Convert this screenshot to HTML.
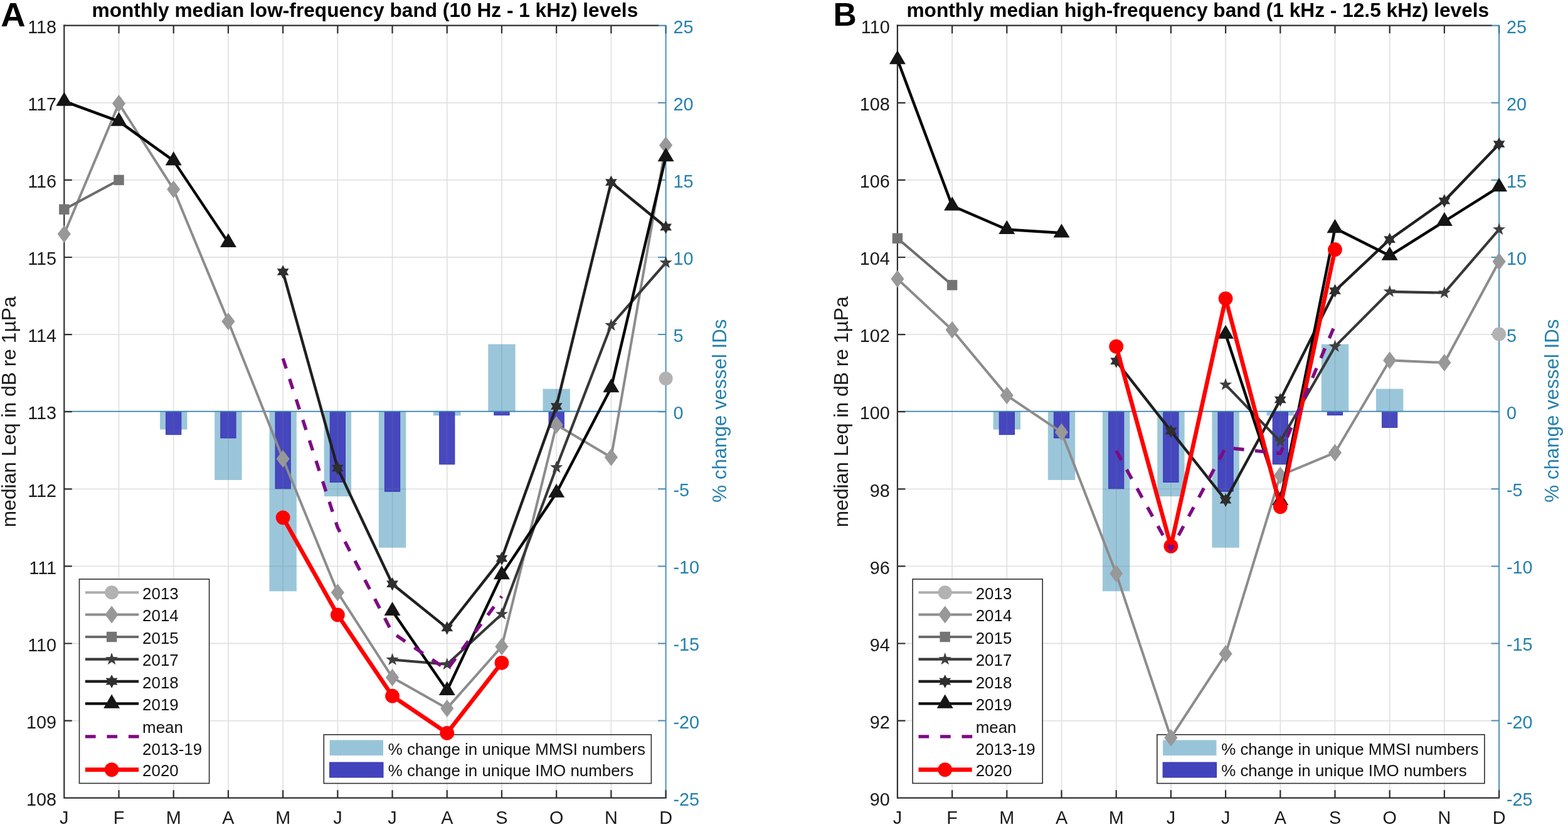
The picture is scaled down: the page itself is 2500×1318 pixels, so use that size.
<!DOCTYPE html>
<html lang="en">
<head>
<meta charset="utf-8">
<title>Monthly median noise levels</title>
<style>
html,body{margin:0;padding:0;background:#fff;}
body{width:2500px;height:1318px;overflow:hidden;}
svg{display:block;}
</style>
</head>
<body>
<svg width="2500" height="1318" viewBox="0 0 2500 1318" font-family='"Liberation Sans", Arial, Helvetica, sans-serif'>
<rect width="2500" height="1318" fill="#fff"/>
<path d="M189.51 40.7V1271.7M276.72 40.7V1271.7M363.93 40.7V1271.7M451.14 40.7V1271.7M538.35 40.7V1271.7M625.55 40.7V1271.7M712.76 40.7V1271.7M799.97 40.7V1271.7M887.18 40.7V1271.7M974.39 40.7V1271.7M102.3 1148.6H1061.6M102.3 1025.5H1061.6M102.3 902.4H1061.6M102.3 779.3H1061.6M102.3 656.2H1061.6M102.3 533.1H1061.6M102.3 410H1061.6M102.3 286.9H1061.6M102.3 163.8H1061.6" stroke="#e2e2e2" stroke-width="1.8" fill="none"/>
<rect x="255.02" y="656.2" width="43.4" height="28.31" fill="#98c4d9" fill-opacity="0.97"/>
<rect x="342.23" y="656.2" width="43.4" height="108.82" fill="#98c4d9" fill-opacity="0.97"/>
<rect x="429.44" y="656.2" width="43.4" height="286.08" fill="#98c4d9" fill-opacity="0.97"/>
<rect x="516.65" y="656.2" width="43.4" height="134.92" fill="#98c4d9" fill-opacity="0.97"/>
<rect x="603.85" y="656.2" width="43.4" height="216.66" fill="#98c4d9" fill-opacity="0.97"/>
<rect x="691.06" y="656.2" width="43.4" height="6.15" fill="#98c4d9" fill-opacity="0.97"/>
<rect x="778.27" y="548.61" width="43.4" height="107.59" fill="#98c4d9" fill-opacity="0.97"/>
<rect x="865.48" y="619.76" width="43.4" height="36.44" fill="#98c4d9" fill-opacity="0.97"/>
<rect x="264.62" y="656.2" width="24.2" height="36.44" fill="#4343bd" fill-opacity="0.97" stroke="#3434b4" stroke-width="1"/>
<rect x="351.83" y="656.2" width="24.2" height="41.85" fill="#4343bd" fill-opacity="0.97" stroke="#3434b4" stroke-width="1"/>
<rect x="439.04" y="656.2" width="24.2" height="122.61" fill="#4343bd" fill-opacity="0.97" stroke="#3434b4" stroke-width="1"/>
<rect x="526.25" y="656.2" width="24.2" height="112.27" fill="#4343bd" fill-opacity="0.97" stroke="#3434b4" stroke-width="1"/>
<rect x="613.45" y="656.2" width="24.2" height="127.04" fill="#4343bd" fill-opacity="0.97" stroke="#3434b4" stroke-width="1"/>
<rect x="700.66" y="656.2" width="24.2" height="83.71" fill="#4343bd" fill-opacity="0.97" stroke="#3434b4" stroke-width="1"/>
<rect x="787.87" y="656.2" width="24.2" height="5.42" fill="#4343bd" fill-opacity="0.97" stroke="#3434b4" stroke-width="1"/>
<rect x="875.08" y="656.2" width="24.2" height="25.11" fill="#4343bd" fill-opacity="0.97" stroke="#3434b4" stroke-width="1"/>
<clipPath id="bcA"><rect x="255.02" y="656.2" width="43.4" height="28.31"/><rect x="342.23" y="656.2" width="43.4" height="108.82"/><rect x="429.44" y="656.2" width="43.4" height="286.08"/><rect x="516.65" y="656.2" width="43.4" height="134.92"/><rect x="603.85" y="656.2" width="43.4" height="216.66"/><rect x="691.06" y="656.2" width="43.4" height="6.15"/><rect x="778.27" y="548.61" width="43.4" height="107.59"/><rect x="865.48" y="619.76" width="43.4" height="36.44"/><rect x="264.62" y="656.2" width="24.2" height="36.44"/><rect x="351.83" y="656.2" width="24.2" height="41.85"/><rect x="439.04" y="656.2" width="24.2" height="122.61"/><rect x="526.25" y="656.2" width="24.2" height="112.27"/><rect x="613.45" y="656.2" width="24.2" height="127.04"/><rect x="700.66" y="656.2" width="24.2" height="83.71"/><rect x="787.87" y="656.2" width="24.2" height="5.42"/><rect x="875.08" y="656.2" width="24.2" height="25.11"/></clipPath>
<path d="M189.51 40.7V1271.7M276.72 40.7V1271.7M363.93 40.7V1271.7M451.14 40.7V1271.7M538.35 40.7V1271.7M625.55 40.7V1271.7M712.76 40.7V1271.7M799.97 40.7V1271.7M887.18 40.7V1271.7M974.39 40.7V1271.7M102.3 1148.6H1061.6M102.3 1025.5H1061.6M102.3 902.4H1061.6M102.3 779.3H1061.6M102.3 656.2H1061.6M102.3 533.1H1061.6M102.3 410H1061.6M102.3 286.9H1061.6M102.3 163.8H1061.6" stroke="#5f7f90" stroke-opacity="0.22" stroke-width="1.8" fill="none" clip-path="url(#bcA)"/>
<path d="M102.3 655.6H1061.6" stroke="#3b86b0" stroke-width="1.6"/>
<path d="M102.3 40.7V1271.7H1061.6" stroke="#2e2e2e" stroke-width="2.2" fill="none" stroke-linecap="square"/>
<path d="M102.3 40.7H1049.6" stroke="#2e2e2e" stroke-width="2.2" fill="none" stroke-linecap="square"/>
<path d="M1049.6 40.7H1061.6" stroke="#4a8fb9" stroke-width="2.2" fill="none"/>
<path d="M1061.6 39.7V1272.7" stroke="#4a8fb9" stroke-width="2.0" fill="none"/>
<path d="M189.51 1271.7v-12.5M189.51 40.7v12.5M276.72 1271.7v-12.5M276.72 40.7v12.5M363.93 1271.7v-12.5M363.93 40.7v12.5M451.14 1271.7v-12.5M451.14 40.7v12.5M538.35 1271.7v-12.5M538.35 40.7v12.5M625.55 1271.7v-12.5M625.55 40.7v12.5M712.76 1271.7v-12.5M712.76 40.7v12.5M799.97 1271.7v-12.5M799.97 40.7v12.5M887.18 1271.7v-12.5M887.18 40.7v12.5M974.39 1271.7v-12.5M974.39 40.7v12.5M102.3 1148.6h12.5M102.3 1025.5h12.5M102.3 902.4h12.5M102.3 779.3h12.5M102.3 656.2h12.5M102.3 533.1h12.5M102.3 410h12.5M102.3 286.9h12.5M102.3 163.8h12.5" stroke="#2e2e2e" stroke-width="2.2" fill="none"/>
<path d="M1061.6 1148.6h-12.5M1061.6 1025.5h-12.5M1061.6 902.4h-12.5M1061.6 779.3h-12.5M1061.6 656.2h-12.5M1061.6 533.1h-12.5M1061.6 410h-12.5M1061.6 286.9h-12.5M1061.6 163.8h-12.5" stroke="#4a8fb9" stroke-width="2" fill="none"/>
<path d="M1061.6 1271.7v-12.5" stroke="#2e2e2e" stroke-width="2.2" fill="none"/>
<path d="M1061.6 40.7v12.5" stroke="#2f6f8c" stroke-width="2.2" fill="none"/>
<g fill="#111"><rect x="516.3" y="1170.8" width="522.1" height="77.7" fill="#fff" fill-opacity="0.55" stroke="#2e2e2e" stroke-width="1.6"/><rect x="525.6" y="1179.5" width="85.4" height="24.5" fill="#98c4d9"/><rect x="525.6" y="1215" width="85.4" height="24" fill="#4343bd" stroke="#3434b4" stroke-width="1"/><text x="618.7" y="1202.6" font-size="25.9">% change in unique MMSI numbers</text><text x="618.7" y="1237.4" font-size="25.9">% change in unique IMO numbers</text></g>
<circle cx="1061.6" cy="603.27" r="11" fill="#b2b2b2"/>
<path d="M102.3 373.07L189.51 165.03L276.72 301.67L363.93 512.17L451.14 731.29L538.35 944.25L625.55 1079.66L712.76 1128.9L799.97 1030.42L887.18 677.13L974.39 728.83L1061.6 231.5" stroke="#8c8c8c" stroke-width="4.0" fill="none" stroke-linejoin="round"/>
<polygon points="102.3,359.07 112.9,373.07 102.3,387.07 91.7,373.07" fill="#989898"/>
<polygon points="189.51,151.03 200.11,165.03 189.51,179.03 178.91,165.03" fill="#989898"/>
<polygon points="276.72,287.67 287.32,301.67 276.72,315.67 266.12,301.67" fill="#989898"/>
<polygon points="363.93,498.17 374.53,512.17 363.93,526.17 353.33,512.17" fill="#989898"/>
<polygon points="451.14,717.29 461.74,731.29 451.14,745.29 440.54,731.29" fill="#989898"/>
<polygon points="538.35,930.25 548.95,944.25 538.35,958.25 527.75,944.25" fill="#989898"/>
<polygon points="625.55,1065.66 636.15,1079.66 625.55,1093.66 614.95,1079.66" fill="#989898"/>
<polygon points="712.76,1114.9 723.36,1128.9 712.76,1142.9 702.16,1128.9" fill="#989898"/>
<polygon points="799.97,1016.42 810.57,1030.42 799.97,1044.42 789.37,1030.42" fill="#989898"/>
<polygon points="887.18,663.13 897.78,677.13 887.18,691.13 876.58,677.13" fill="#989898"/>
<polygon points="974.39,714.83 984.99,728.83 974.39,742.83 963.79,728.83" fill="#989898"/>
<polygon points="1061.6,217.5 1072.2,231.5 1061.6,245.5 1051,231.5" fill="#989898"/>
<path d="M102.3 333.68L189.51 286.9" stroke="#6c6c6c" stroke-width="4.0" fill="none" stroke-linejoin="round"/>
<rect x="94.1" y="325.48" width="16.4" height="16.4" fill="#747474"/>
<rect x="181.31" y="278.7" width="16.4" height="16.4" fill="#747474"/>
<path d="M625.55 1051.35L712.76 1058.74L799.97 978.72L887.18 744.83L974.39 518.33L1061.6 418.62" stroke="#383838" stroke-width="4.2" fill="none" stroke-linejoin="round"/>
<polygon points="625.55,1040.75 628.08,1047.87 635.64,1048.08 629.64,1052.68 631.79,1059.93 625.55,1055.65 619.32,1059.93 621.47,1052.68 615.47,1048.08 623.03,1047.87" fill="#3e3e3e"/>
<polygon points="712.76,1048.14 715.29,1055.26 722.84,1055.46 716.85,1060.07 718.99,1067.31 712.76,1063.04 706.53,1067.31 708.67,1060.07 702.68,1055.46 710.24,1055.26" fill="#3e3e3e"/>
<polygon points="799.97,968.12 802.5,975.24 810.05,975.45 804.06,980.05 806.2,987.3 799.97,983.02 793.74,987.3 795.88,980.05 789.89,975.45 797.45,975.24" fill="#3e3e3e"/>
<polygon points="887.18,734.23 889.71,741.35 897.26,741.56 891.27,746.16 893.41,753.41 887.18,749.13 880.95,753.41 883.09,746.16 877.1,741.56 884.65,741.35" fill="#3e3e3e"/>
<polygon points="974.39,507.73 976.92,514.85 984.47,515.05 978.48,519.66 980.62,526.9 974.39,522.63 968.16,526.9 970.3,519.66 964.31,515.05 971.86,514.85" fill="#3e3e3e"/>
<polygon points="1061.6,408.02 1064.13,415.14 1071.68,415.34 1065.69,419.95 1067.83,427.19 1061.6,422.92 1055.37,427.19 1057.51,419.95 1051.52,415.34 1059.07,415.14" fill="#3e3e3e"/>
<path d="M451.14 433.39L538.35 746.06L625.55 930.71L712.76 1000.88L799.97 890.09L887.18 647.58L974.39 290.59L1061.6 361.99" stroke="#202020" stroke-width="4.4" fill="none" stroke-linejoin="round"/>
<polygon points="451.14,422.59 454.14,428.19 460.49,427.99 457.14,433.39 460.49,438.79 454.14,438.59 451.14,444.19 448.14,438.59 441.78,438.79 445.14,433.39 441.78,427.99 448.14,428.19" fill="#2e2e2e"/>
<polygon points="538.35,735.26 541.35,740.87 547.7,740.66 544.35,746.06 547.7,751.46 541.35,751.26 538.35,756.86 535.35,751.26 528.99,751.46 532.35,746.06 528.99,740.66 535.35,740.87" fill="#2e2e2e"/>
<polygon points="625.55,919.91 628.55,925.52 634.91,925.31 631.55,930.71 634.91,936.11 628.55,935.91 625.55,941.51 622.55,935.91 616.2,936.11 619.55,930.71 616.2,925.31 622.55,925.52" fill="#2e2e2e"/>
<polygon points="712.76,990.08 715.76,995.68 722.12,995.48 718.76,1000.88 722.12,1006.28 715.76,1006.08 712.76,1011.68 709.76,1006.08 703.41,1006.28 706.76,1000.88 703.41,995.48 709.76,995.68" fill="#2e2e2e"/>
<polygon points="799.97,879.29 802.97,884.89 809.33,884.69 805.97,890.09 809.33,895.49 802.97,895.29 799.97,900.89 796.97,895.29 790.62,895.49 793.97,890.09 790.62,884.69 796.97,884.89" fill="#2e2e2e"/>
<polygon points="887.18,636.78 890.18,642.39 896.53,642.18 893.18,647.58 896.53,652.98 890.18,652.78 887.18,658.38 884.18,652.78 877.83,652.98 881.18,647.58 877.83,642.18 884.18,642.39" fill="#2e2e2e"/>
<polygon points="974.39,279.79 977.39,285.4 983.74,285.19 980.39,290.59 983.74,295.99 977.39,295.79 974.39,301.39 971.39,295.79 965.04,295.99 968.39,290.59 965.04,285.19 971.39,285.4" fill="#2e2e2e"/>
<polygon points="1061.6,351.19 1064.6,356.79 1070.95,356.59 1067.6,361.99 1070.95,367.39 1064.6,367.19 1061.6,372.79 1058.6,367.19 1052.25,367.39 1055.6,361.99 1052.25,356.59 1058.6,356.79" fill="#2e2e2e"/>
<path d="M102.3 161.34L189.51 193.34L276.72 256.12L363.93 386.61" stroke="#050505" stroke-width="4.4" fill="none" stroke-linejoin="round"/>
<path d="M625.55 973.8L712.76 1100.59L799.97 915.94L887.18 785.45L974.39 618.04L1061.6 249.97" stroke="#050505" stroke-width="4.4" fill="none" stroke-linejoin="round"/>
<polygon points="102.3,146.54 115.3,168.64 89.3,168.64" fill="#151515"/>
<polygon points="189.51,178.54 202.51,200.64 176.51,200.64" fill="#151515"/>
<polygon points="276.72,241.32 289.72,263.43 263.72,263.43" fill="#151515"/>
<polygon points="363.93,371.81 376.93,393.91 350.93,393.91" fill="#151515"/>
<polygon points="625.55,959 638.55,981.1 612.55,981.1" fill="#151515"/>
<polygon points="712.76,1085.79 725.76,1107.89 699.76,1107.89" fill="#151515"/>
<polygon points="799.97,901.14 812.97,923.24 786.97,923.24" fill="#151515"/>
<polygon points="887.18,770.65 900.18,792.75 874.18,792.75" fill="#151515"/>
<polygon points="974.39,603.24 987.39,625.34 961.39,625.34" fill="#151515"/>
<polygon points="1061.6,235.17 1074.6,257.27 1048.6,257.27" fill="#151515"/>
<path d="M451.14 824.85L538.35 979.95L625.55 1109.21L712.76 1168.3L799.97 1056.28" stroke="#ff0000" stroke-width="6.6" fill="none" stroke-linejoin="round"/>
<circle cx="451.14" cy="824.85" r="11.4" fill="#ff0000"/>
<circle cx="538.35" cy="979.95" r="11.4" fill="#ff0000"/>
<circle cx="625.55" cy="1109.21" r="11.4" fill="#ff0000"/>
<circle cx="712.76" cy="1168.3" r="11.4" fill="#ff0000"/>
<circle cx="799.97" cy="1056.28" r="11.4" fill="#ff0000"/>
<path d="M451.14 571.26L538.35 840.85L625.55 1008.27L712.76 1067.35L799.97 950.41" stroke="#7e0a84" stroke-width="5.4" fill="none" stroke-linejoin="round" stroke-dasharray="16.8 17.5"/>
<g font-size="28.8" fill="#1a1a1a"><text x="90.1" y="1283.9" text-anchor="end">108</text><text x="90.1" y="1160.8" text-anchor="end">109</text><text x="90.1" y="1037.7" text-anchor="end">110</text><text x="90.1" y="914.6" text-anchor="end">111</text><text x="90.1" y="791.5" text-anchor="end">112</text><text x="90.1" y="668.4" text-anchor="end">113</text><text x="90.1" y="545.3" text-anchor="end">114</text><text x="90.1" y="422.2" text-anchor="end">115</text><text x="90.1" y="299.1" text-anchor="end">116</text><text x="90.1" y="176" text-anchor="end">117</text><text x="90.1" y="52.9" text-anchor="end">118</text><text x="102.3" y="1312.6" text-anchor="middle">J</text><text x="189.51" y="1312.6" text-anchor="middle">F</text><text x="276.72" y="1312.6" text-anchor="middle">M</text><text x="363.93" y="1312.6" text-anchor="middle">A</text><text x="451.14" y="1312.6" text-anchor="middle">M</text><text x="538.35" y="1312.6" text-anchor="middle">J</text><text x="625.55" y="1312.6" text-anchor="middle">J</text><text x="712.76" y="1312.6" text-anchor="middle">A</text><text x="799.97" y="1312.6" text-anchor="middle">S</text><text x="887.18" y="1312.6" text-anchor="middle">O</text><text x="974.39" y="1312.6" text-anchor="middle">N</text><text x="1061.6" y="1312.6" text-anchor="middle">D</text></g>
<g font-size="28.8" fill="#2580ad"><text x="1073.5" y="1283.6">-25</text><text x="1073.5" y="1160.5">-20</text><text x="1073.5" y="1037.4">-15</text><text x="1073.5" y="914.3">-10</text><text x="1073.5" y="791.2">-5</text><text x="1073.5" y="668.1">0</text><text x="1073.5" y="545">5</text><text x="1073.5" y="421.9">10</text><text x="1073.5" y="298.8">15</text><text x="1073.5" y="175.7">20</text><text x="1073.5" y="52.6">25</text></g>
<text transform="translate(24.9 656.3) rotate(-90)" text-anchor="middle" font-size="31.75" fill="#1a1a1a">median Leq in dB re 1µPa</text>
<text transform="translate(1158 654.6) rotate(-90)" text-anchor="middle" font-size="31.3" fill="#2580ad">% change vessel IDs</text>
<g fill="#111"><rect x="126.5" y="923" width="207.1" height="325.4" fill="#fff" stroke="#2e2e2e" stroke-width="1.6"/><path d="M135.9 944.3H221.1" stroke="#adadad" stroke-width="4.0"/><circle cx="178.1" cy="944.3" r="11" fill="#b2b2b2"/><text x="227.1" y="954.8" font-size="25.9">2013</text><path d="M135.9 979.6H221.1" stroke="#8c8c8c" stroke-width="4.0"/><polygon points="178.1,965.6 188.7,979.6 178.1,993.6 167.5,979.6" fill="#989898"/><text x="227.1" y="990.1" font-size="25.9">2014</text><path d="M135.9 1015H221.1" stroke="#6c6c6c" stroke-width="4.0"/><rect x="169.9" y="1006.8" width="16.4" height="16.4" fill="#747474"/><text x="227.1" y="1025.5" font-size="25.9">2015</text><path d="M135.9 1050.6H221.1" stroke="#383838" stroke-width="4.2"/><polygon points="178.1,1040 180.63,1047.12 188.18,1047.32 182.19,1051.93 184.33,1059.18 178.1,1054.9 171.87,1059.18 174.01,1051.93 168.02,1047.32 175.57,1047.12" fill="#3e3e3e"/><text x="227.1" y="1061.1" font-size="25.9">2017</text><path d="M135.9 1086H221.1" stroke="#202020" stroke-width="4.4"/><polygon points="178.1,1075.2 181.1,1080.8 187.45,1080.6 184.1,1086 187.45,1091.4 181.1,1091.2 178.1,1096.8 175.1,1091.2 168.75,1091.4 172.1,1086 168.75,1080.6 175.1,1080.8" fill="#2e2e2e"/><text x="227.1" y="1096.5" font-size="25.9">2018</text><path d="M135.9 1121.4H221.1" stroke="#050505" stroke-width="4.4"/><polygon points="178.1,1106.6 191.1,1128.7 165.1,1128.7" fill="#151515"/><text x="227.1" y="1131.9" font-size="25.9">2019</text><path d="M135.9 1173.9H221.6" stroke="#7e0a84" stroke-width="5.4" stroke-dasharray="16.7 17.8"/><text x="227.1" y="1168.1" font-size="25.9">mean</text><text x="227.1" y="1202.8" font-size="25.9">2013-19</text><path d="M135.9 1226.6H221.1" stroke="#ff0000" stroke-width="6.6"/><circle cx="178.1" cy="1226.6" r="11.4" fill="#ff0000"/><text x="227.1" y="1237.1" font-size="25.9">2020</text></g>
<path d="M1518.1 40.7V1271.7M1605.3 40.7V1271.7M1692.5 40.7V1271.7M1779.7 40.7V1271.7M1866.9 40.7V1271.7M1954.1 40.7V1271.7M2041.3 40.7V1271.7M2128.5 40.7V1271.7M2215.7 40.7V1271.7M2302.9 40.7V1271.7M1430.9 1148.6H2390.1M1430.9 1025.5H2390.1M1430.9 902.4H2390.1M1430.9 779.3H2390.1M1430.9 656.2H2390.1M1430.9 533.1H2390.1M1430.9 410H2390.1M1430.9 286.9H2390.1M1430.9 163.8H2390.1" stroke="#e2e2e2" stroke-width="1.8" fill="none"/>
<rect x="1583.6" y="656.2" width="43.4" height="28.31" fill="#98c4d9" fill-opacity="0.97"/>
<rect x="1670.8" y="656.2" width="43.4" height="108.82" fill="#98c4d9" fill-opacity="0.97"/>
<rect x="1758" y="656.2" width="43.4" height="286.08" fill="#98c4d9" fill-opacity="0.97"/>
<rect x="1845.2" y="656.2" width="43.4" height="134.92" fill="#98c4d9" fill-opacity="0.97"/>
<rect x="1932.4" y="656.2" width="43.4" height="216.66" fill="#98c4d9" fill-opacity="0.97"/>
<rect x="2019.6" y="656.2" width="43.4" height="6.15" fill="#98c4d9" fill-opacity="0.97"/>
<rect x="2106.8" y="548.61" width="43.4" height="107.59" fill="#98c4d9" fill-opacity="0.97"/>
<rect x="2194" y="619.76" width="43.4" height="36.44" fill="#98c4d9" fill-opacity="0.97"/>
<rect x="1593.2" y="656.2" width="24.2" height="36.44" fill="#4343bd" fill-opacity="0.97" stroke="#3434b4" stroke-width="1"/>
<rect x="1680.4" y="656.2" width="24.2" height="41.85" fill="#4343bd" fill-opacity="0.97" stroke="#3434b4" stroke-width="1"/>
<rect x="1767.6" y="656.2" width="24.2" height="122.61" fill="#4343bd" fill-opacity="0.97" stroke="#3434b4" stroke-width="1"/>
<rect x="1854.8" y="656.2" width="24.2" height="112.27" fill="#4343bd" fill-opacity="0.97" stroke="#3434b4" stroke-width="1"/>
<rect x="1942" y="656.2" width="24.2" height="127.04" fill="#4343bd" fill-opacity="0.97" stroke="#3434b4" stroke-width="1"/>
<rect x="2029.2" y="656.2" width="24.2" height="83.71" fill="#4343bd" fill-opacity="0.97" stroke="#3434b4" stroke-width="1"/>
<rect x="2116.4" y="656.2" width="24.2" height="5.42" fill="#4343bd" fill-opacity="0.97" stroke="#3434b4" stroke-width="1"/>
<rect x="2203.6" y="656.2" width="24.2" height="25.11" fill="#4343bd" fill-opacity="0.97" stroke="#3434b4" stroke-width="1"/>
<clipPath id="bcB"><rect x="1583.6" y="656.2" width="43.4" height="28.31"/><rect x="1670.8" y="656.2" width="43.4" height="108.82"/><rect x="1758" y="656.2" width="43.4" height="286.08"/><rect x="1845.2" y="656.2" width="43.4" height="134.92"/><rect x="1932.4" y="656.2" width="43.4" height="216.66"/><rect x="2019.6" y="656.2" width="43.4" height="6.15"/><rect x="2106.8" y="548.61" width="43.4" height="107.59"/><rect x="2194" y="619.76" width="43.4" height="36.44"/><rect x="1593.2" y="656.2" width="24.2" height="36.44"/><rect x="1680.4" y="656.2" width="24.2" height="41.85"/><rect x="1767.6" y="656.2" width="24.2" height="122.61"/><rect x="1854.8" y="656.2" width="24.2" height="112.27"/><rect x="1942" y="656.2" width="24.2" height="127.04"/><rect x="2029.2" y="656.2" width="24.2" height="83.71"/><rect x="2116.4" y="656.2" width="24.2" height="5.42"/><rect x="2203.6" y="656.2" width="24.2" height="25.11"/></clipPath>
<path d="M1518.1 40.7V1271.7M1605.3 40.7V1271.7M1692.5 40.7V1271.7M1779.7 40.7V1271.7M1866.9 40.7V1271.7M1954.1 40.7V1271.7M2041.3 40.7V1271.7M2128.5 40.7V1271.7M2215.7 40.7V1271.7M2302.9 40.7V1271.7M1430.9 1148.6H2390.1M1430.9 1025.5H2390.1M1430.9 902.4H2390.1M1430.9 779.3H2390.1M1430.9 656.2H2390.1M1430.9 533.1H2390.1M1430.9 410H2390.1M1430.9 286.9H2390.1M1430.9 163.8H2390.1" stroke="#5f7f90" stroke-opacity="0.22" stroke-width="1.8" fill="none" clip-path="url(#bcB)"/>
<path d="M1430.9 655.6H2390.1" stroke="#3b86b0" stroke-width="1.6"/>
<path d="M1430.9 40.7V1271.7H2390.1" stroke="#2e2e2e" stroke-width="2.2" fill="none" stroke-linecap="square"/>
<path d="M1430.9 40.7H2378.1" stroke="#2e2e2e" stroke-width="2.2" fill="none" stroke-linecap="square"/>
<path d="M2378.1 40.7H2390.1" stroke="#4a8fb9" stroke-width="2.2" fill="none"/>
<path d="M2390.1 39.7V1272.7" stroke="#4a8fb9" stroke-width="2.0" fill="none"/>
<path d="M1518.1 1271.7v-12.5M1518.1 40.7v12.5M1605.3 1271.7v-12.5M1605.3 40.7v12.5M1692.5 1271.7v-12.5M1692.5 40.7v12.5M1779.7 1271.7v-12.5M1779.7 40.7v12.5M1866.9 1271.7v-12.5M1866.9 40.7v12.5M1954.1 1271.7v-12.5M1954.1 40.7v12.5M2041.3 1271.7v-12.5M2041.3 40.7v12.5M2128.5 1271.7v-12.5M2128.5 40.7v12.5M2215.7 1271.7v-12.5M2215.7 40.7v12.5M2302.9 1271.7v-12.5M2302.9 40.7v12.5M1430.9 1148.6h12.5M1430.9 1025.5h12.5M1430.9 902.4h12.5M1430.9 779.3h12.5M1430.9 656.2h12.5M1430.9 533.1h12.5M1430.9 410h12.5M1430.9 286.9h12.5M1430.9 163.8h12.5" stroke="#2e2e2e" stroke-width="2.2" fill="none"/>
<path d="M2390.1 1148.6h-12.5M2390.1 1025.5h-12.5M2390.1 902.4h-12.5M2390.1 779.3h-12.5M2390.1 656.2h-12.5M2390.1 533.1h-12.5M2390.1 410h-12.5M2390.1 286.9h-12.5M2390.1 163.8h-12.5" stroke="#4a8fb9" stroke-width="2" fill="none"/>
<path d="M2390.1 1271.7v-12.5" stroke="#2e2e2e" stroke-width="2.2" fill="none"/>
<path d="M2390.1 40.7v12.5" stroke="#2f6f8c" stroke-width="2.2" fill="none"/>
<g fill="#111"><rect x="1844.8" y="1170.8" width="522.1" height="77.7" fill="#fff" fill-opacity="0.55" stroke="#2e2e2e" stroke-width="1.6"/><rect x="1854.1" y="1179.5" width="85.4" height="24.5" fill="#98c4d9"/><rect x="1854.1" y="1215" width="85.4" height="24" fill="#4343bd" stroke="#3434b4" stroke-width="1"/><text x="1947.2" y="1202.6" font-size="25.9">% change in unique MMSI numbers</text><text x="1947.2" y="1237.4" font-size="25.9">% change in unique IMO numbers</text></g>
<circle cx="2390.1" cy="532.48" r="11" fill="#b2b2b2"/>
<path d="M1430.9 444.47L1518.1 525.71L1605.3 630.35L1692.5 688.82L1779.7 914.09L1866.9 1175.68L1954.1 1042.12L2041.3 757.76L2128.5 721.44L2215.7 574.34L2302.9 578.03L2390.1 416.77" stroke="#8c8c8c" stroke-width="4.0" fill="none" stroke-linejoin="round"/>
<polygon points="1430.9,430.47 1441.5,444.47 1430.9,458.47 1420.3,444.47" fill="#989898"/>
<polygon points="1518.1,511.71 1528.7,525.71 1518.1,539.71 1507.5,525.71" fill="#989898"/>
<polygon points="1605.3,616.35 1615.9,630.35 1605.3,644.35 1594.7,630.35" fill="#989898"/>
<polygon points="1692.5,674.82 1703.1,688.82 1692.5,702.82 1681.9,688.82" fill="#989898"/>
<polygon points="1779.7,900.09 1790.3,914.09 1779.7,928.09 1769.1,914.09" fill="#989898"/>
<polygon points="1866.9,1161.68 1877.5,1175.68 1866.9,1189.68 1856.3,1175.68" fill="#989898"/>
<polygon points="1954.1,1028.12 1964.7,1042.12 1954.1,1056.12 1943.5,1042.12" fill="#989898"/>
<polygon points="2041.3,743.76 2051.9,757.76 2041.3,771.76 2030.7,757.76" fill="#989898"/>
<polygon points="2128.5,707.44 2139.1,721.44 2128.5,735.44 2117.9,721.44" fill="#989898"/>
<polygon points="2215.7,560.34 2226.3,574.34 2215.7,588.34 2205.1,574.34" fill="#989898"/>
<polygon points="2302.9,564.03 2313.5,578.03 2302.9,592.03 2292.3,578.03" fill="#989898"/>
<polygon points="2390.1,402.77 2400.7,416.77 2390.1,430.77 2379.5,416.77" fill="#989898"/>
<path d="M1430.9 379.84L1518.1 454.32" stroke="#6c6c6c" stroke-width="4.0" fill="none" stroke-linejoin="round"/>
<rect x="1422.7" y="371.64" width="16.4" height="16.4" fill="#747474"/>
<rect x="1509.9" y="446.12" width="16.4" height="16.4" fill="#747474"/>
<path d="M1954.1 613.11L2041.3 703.59L2128.5 552.18L2215.7 464.78L2302.9 466.63L2390.1 365.68" stroke="#383838" stroke-width="4.2" fill="none" stroke-linejoin="round"/>
<polygon points="1954.1,602.51 1956.63,609.64 1964.18,609.84 1958.19,614.44 1960.33,621.69 1954.1,617.41 1947.87,621.69 1950.01,614.44 1944.02,609.84 1951.57,609.64" fill="#3e3e3e"/>
<polygon points="2041.3,692.99 2043.83,700.11 2051.38,700.32 2045.39,704.92 2047.53,712.17 2041.3,707.89 2035.07,712.17 2037.21,704.92 2031.22,700.32 2038.77,700.11" fill="#3e3e3e"/>
<polygon points="2128.5,541.58 2131.03,548.7 2138.58,548.9 2132.59,553.51 2134.73,560.76 2128.5,556.48 2122.27,560.76 2124.41,553.51 2118.42,548.9 2125.97,548.7" fill="#3e3e3e"/>
<polygon points="2215.7,454.18 2218.23,461.3 2225.78,461.5 2219.79,466.11 2221.93,473.36 2215.7,469.08 2209.47,473.36 2211.61,466.11 2205.62,461.5 2213.17,461.3" fill="#3e3e3e"/>
<polygon points="2302.9,456.03 2305.43,463.15 2312.98,463.35 2306.99,467.95 2309.13,475.2 2302.9,470.93 2296.67,475.2 2298.81,467.95 2292.82,463.35 2300.37,463.15" fill="#3e3e3e"/>
<polygon points="2390.1,355.08 2392.63,362.21 2400.18,362.41 2394.19,367.01 2396.33,374.26 2390.1,369.98 2383.87,374.26 2386.01,367.01 2380.02,362.41 2387.57,362.21" fill="#3e3e3e"/>
<path d="M1779.7 575.57L1866.9 686.98L1954.1 797.15L2041.3 637.12L2128.5 463.55L2215.7 381.69L2302.9 320.14L2390.1 229.66" stroke="#202020" stroke-width="4.4" fill="none" stroke-linejoin="round"/>
<polygon points="1779.7,564.77 1782.7,570.37 1789.05,570.17 1785.7,575.57 1789.05,580.97 1782.7,580.77 1779.7,586.37 1776.7,580.77 1770.35,580.97 1773.7,575.57 1770.35,570.17 1776.7,570.37" fill="#2e2e2e"/>
<polygon points="1866.9,676.18 1869.9,681.78 1876.25,681.58 1872.9,686.98 1876.25,692.38 1869.9,692.17 1866.9,697.77 1863.9,692.17 1857.55,692.38 1860.9,686.98 1857.55,681.58 1863.9,681.78" fill="#2e2e2e"/>
<polygon points="1954.1,786.35 1957.1,791.95 1963.45,791.75 1960.1,797.15 1963.45,802.55 1957.1,802.35 1954.1,807.95 1951.1,802.35 1944.75,802.55 1948.1,797.15 1944.75,791.75 1951.1,791.95" fill="#2e2e2e"/>
<polygon points="2041.3,626.32 2044.3,631.92 2050.65,631.72 2047.3,637.12 2050.65,642.52 2044.3,642.32 2041.3,647.92 2038.3,642.32 2031.95,642.52 2035.3,637.12 2031.95,631.72 2038.3,631.92" fill="#2e2e2e"/>
<polygon points="2128.5,452.75 2131.5,458.35 2137.85,458.15 2134.5,463.55 2137.85,468.95 2131.5,468.74 2128.5,474.35 2125.5,468.74 2119.15,468.95 2122.5,463.55 2119.15,458.15 2125.5,458.35" fill="#2e2e2e"/>
<polygon points="2215.7,370.89 2218.7,376.49 2225.05,376.29 2221.7,381.69 2225.05,387.09 2218.7,386.88 2215.7,392.49 2212.7,386.88 2206.35,387.09 2209.7,381.69 2206.35,376.29 2212.7,376.49" fill="#2e2e2e"/>
<polygon points="2302.9,309.34 2305.9,314.94 2312.25,314.74 2308.9,320.14 2312.25,325.54 2305.9,325.33 2302.9,330.94 2299.9,325.33 2293.55,325.54 2296.9,320.14 2293.55,314.74 2299.9,314.94" fill="#2e2e2e"/>
<polygon points="2390.1,218.86 2393.1,224.46 2399.45,224.26 2396.1,229.66 2399.45,235.06 2393.1,234.85 2390.1,240.46 2387.1,234.85 2380.75,235.06 2384.1,229.66 2380.75,224.26 2387.1,224.46" fill="#2e2e2e"/>
<path d="M1430.9 94.86L1518.1 328.14L1605.3 365.68L1692.5 371.22" stroke="#050505" stroke-width="4.4" fill="none" stroke-linejoin="round"/>
<path d="M1954.1 532.48L2041.3 797.76L2128.5 363.84L2215.7 407.54L2302.9 352.76L2390.1 297.98" stroke="#050505" stroke-width="4.4" fill="none" stroke-linejoin="round"/>
<polygon points="1430.9,80.06 1443.9,102.16 1417.9,102.16" fill="#151515"/>
<polygon points="1518.1,313.34 1531.1,335.44 1505.1,335.44" fill="#151515"/>
<polygon points="1605.3,350.88 1618.3,372.98 1592.3,372.98" fill="#151515"/>
<polygon points="1692.5,356.42 1705.5,378.52 1679.5,378.52" fill="#151515"/>
<polygon points="1954.1,517.68 1967.1,539.78 1941.1,539.78" fill="#151515"/>
<polygon points="2041.3,782.96 2054.3,805.06 2028.3,805.06" fill="#151515"/>
<polygon points="2128.5,349.04 2141.5,371.14 2115.5,371.14" fill="#151515"/>
<polygon points="2215.7,392.74 2228.7,414.84 2202.7,414.84" fill="#151515"/>
<polygon points="2302.9,337.96 2315.9,360.06 2289.9,360.06" fill="#151515"/>
<polygon points="2390.1,283.18 2403.1,305.28 2377.1,305.28" fill="#151515"/>
<path d="M1779.7 552.18L1866.9 870.39L1954.1 475.86L2041.3 807.61L2128.5 397.69" stroke="#ff0000" stroke-width="6.6" fill="none" stroke-linejoin="round"/>
<circle cx="1779.7" cy="552.18" r="11.4" fill="#ff0000"/>
<circle cx="1866.9" cy="870.39" r="11.4" fill="#ff0000"/>
<circle cx="1954.1" cy="475.86" r="11.4" fill="#ff0000"/>
<circle cx="2041.3" cy="807.61" r="11.4" fill="#ff0000"/>
<circle cx="2128.5" cy="397.69" r="11.4" fill="#ff0000"/>
<path d="M1779.7 718.37L1866.9 875.93L1954.1 713.44L2041.3 722.67L2128.5 517.71" stroke="#7e0a84" stroke-width="5.4" fill="none" stroke-linejoin="round" stroke-dasharray="16.8 17.5"/>
<g font-size="28.8" fill="#1a1a1a"><text x="1418.7" y="1283.9" text-anchor="end">90</text><text x="1418.7" y="1160.8" text-anchor="end">92</text><text x="1418.7" y="1037.7" text-anchor="end">94</text><text x="1418.7" y="914.6" text-anchor="end">96</text><text x="1418.7" y="791.5" text-anchor="end">98</text><text x="1418.7" y="668.4" text-anchor="end">100</text><text x="1418.7" y="545.3" text-anchor="end">102</text><text x="1418.7" y="422.2" text-anchor="end">104</text><text x="1418.7" y="299.1" text-anchor="end">106</text><text x="1418.7" y="176" text-anchor="end">108</text><text x="1418.7" y="52.9" text-anchor="end">110</text><text x="1430.9" y="1312.6" text-anchor="middle">J</text><text x="1518.1" y="1312.6" text-anchor="middle">F</text><text x="1605.3" y="1312.6" text-anchor="middle">M</text><text x="1692.5" y="1312.6" text-anchor="middle">A</text><text x="1779.7" y="1312.6" text-anchor="middle">M</text><text x="1866.9" y="1312.6" text-anchor="middle">J</text><text x="1954.1" y="1312.6" text-anchor="middle">J</text><text x="2041.3" y="1312.6" text-anchor="middle">A</text><text x="2128.5" y="1312.6" text-anchor="middle">S</text><text x="2215.7" y="1312.6" text-anchor="middle">O</text><text x="2302.9" y="1312.6" text-anchor="middle">N</text><text x="2390.1" y="1312.6" text-anchor="middle">D</text></g>
<g font-size="28.8" fill="#2580ad"><text x="2402" y="1283.6">-25</text><text x="2402" y="1160.5">-20</text><text x="2402" y="1037.4">-15</text><text x="2402" y="914.3">-10</text><text x="2402" y="791.2">-5</text><text x="2402" y="668.1">0</text><text x="2402" y="545">5</text><text x="2402" y="421.9">10</text><text x="2402" y="298.8">15</text><text x="2402" y="175.7">20</text><text x="2402" y="52.6">25</text></g>
<text transform="translate(1352 656.3) rotate(-90)" text-anchor="middle" font-size="31.75" fill="#1a1a1a">median Leq in dB re 1µPa</text>
<text transform="translate(2484.7 654.6) rotate(-90)" text-anchor="middle" font-size="31.3" fill="#2580ad">% change vessel IDs</text>
<g fill="#111"><rect x="1455.1" y="923" width="207.1" height="325.4" fill="#fff" stroke="#2e2e2e" stroke-width="1.6"/><path d="M1464.5 944.3H1549.7" stroke="#adadad" stroke-width="4.0"/><circle cx="1506.7" cy="944.3" r="11" fill="#b2b2b2"/><text x="1555.7" y="954.8" font-size="25.9">2013</text><path d="M1464.5 979.6H1549.7" stroke="#8c8c8c" stroke-width="4.0"/><polygon points="1506.7,965.6 1517.3,979.6 1506.7,993.6 1496.1,979.6" fill="#989898"/><text x="1555.7" y="990.1" font-size="25.9">2014</text><path d="M1464.5 1015H1549.7" stroke="#6c6c6c" stroke-width="4.0"/><rect x="1498.5" y="1006.8" width="16.4" height="16.4" fill="#747474"/><text x="1555.7" y="1025.5" font-size="25.9">2015</text><path d="M1464.5 1050.6H1549.7" stroke="#383838" stroke-width="4.2"/><polygon points="1506.7,1040 1509.23,1047.12 1516.78,1047.32 1510.79,1051.93 1512.93,1059.18 1506.7,1054.9 1500.47,1059.18 1502.61,1051.93 1496.62,1047.32 1504.17,1047.12" fill="#3e3e3e"/><text x="1555.7" y="1061.1" font-size="25.9">2017</text><path d="M1464.5 1086H1549.7" stroke="#202020" stroke-width="4.4"/><polygon points="1506.7,1075.2 1509.7,1080.8 1516.05,1080.6 1512.7,1086 1516.05,1091.4 1509.7,1091.2 1506.7,1096.8 1503.7,1091.2 1497.35,1091.4 1500.7,1086 1497.35,1080.6 1503.7,1080.8" fill="#2e2e2e"/><text x="1555.7" y="1096.5" font-size="25.9">2018</text><path d="M1464.5 1121.4H1549.7" stroke="#050505" stroke-width="4.4"/><polygon points="1506.7,1106.6 1519.7,1128.7 1493.7,1128.7" fill="#151515"/><text x="1555.7" y="1131.9" font-size="25.9">2019</text><path d="M1464.5 1173.9H1550.2" stroke="#7e0a84" stroke-width="5.4" stroke-dasharray="16.7 17.8"/><text x="1555.7" y="1168.1" font-size="25.9">mean</text><text x="1555.7" y="1202.8" font-size="25.9">2013-19</text><path d="M1464.5 1226.6H1549.7" stroke="#ff0000" stroke-width="6.6"/><circle cx="1506.7" cy="1226.6" r="11.4" fill="#ff0000"/><text x="1555.7" y="1237.1" font-size="25.9">2020</text></g>
<text x="581.9" y="27.0" text-anchor="middle" font-size="31.67" font-weight="bold">monthly median low-frequency band (10 Hz - 1 kHz) levels</text>
<text x="1909.8" y="27.0" text-anchor="middle" font-size="31.67" font-weight="bold">monthly median high-frequency band (1 kHz - 12.5 kHz) levels</text>
<text x="0" y="41.6" font-size="53" font-weight="bold" transform="translate(1.3 0) scale(1.03 1)">A</text>
<text x="1328.6" y="41.4" font-size="51.5" font-weight="bold">B</text>
</svg>
</body>
</html>
